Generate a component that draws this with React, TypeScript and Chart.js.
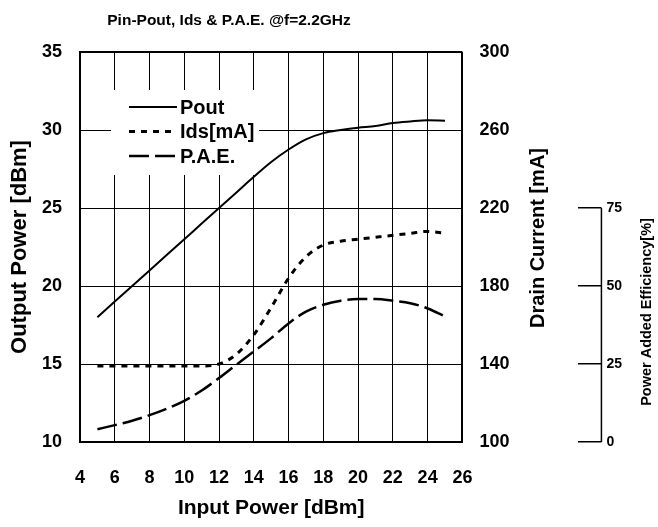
import React, { useEffect, useRef } from "react";
import { Chart, registerables } from "chart.js";

Chart.register(...registerables);

const chartTitle = "Pin-Pout, Ids & P.A.E. @f=2.2GHz";
const xTitle = "Input Power [dBm]";
const yTitle = "Output Power [dBm]";
const y1Title = "Drain Current [mA]";
const y2Title = "Power Added Efficiency[%]";

const inputPower = [5, 6, 7, 8, 9, 10, 11, 12, 13, 14, 15, 16, 17, 18, 19, 20, 21, 22, 23, 24, 25];
const pout = [18.0, 19.0, 20.0, 21.0, 22.0, 23.0, 24.0, 25.0, 26.0, 27.0, 27.95, 28.75, 29.4, 29.8, 30.0, 30.15, 30.25, 30.45, 30.55, 30.62, 30.6];
const ids = [139, 139, 139, 139, 139, 139, 139, 140, 145, 155, 169, 184, 195, 201, 203, 204, 205, 206, 207, 208, 207];
const pae = [4.1, 5.4, 6.8, 8.6, 10.7, 13.2, 16.5, 20.5, 24.8, 29.0, 33.3, 38.0, 41.8, 44.0, 45.3, 45.8, 45.8, 45.3, 44.5, 42.8, 40.3];

const paeTicks = [0, 25, 50, 75];

const FONT = "'Liberation Sans', Arial, Helvetica, sans-serif";

const titlePlugin = {
  id: "customTitle",
  afterDraw(chart: any) {
    const { ctx, chartArea } = chart;
    ctx.save();
    ctx.fillStyle = "#000";
    ctx.font = `bold 15.5px ${FONT}`;
    ctx.textAlign = "center";
    ctx.textBaseline = "alphabetic";
    ctx.fillText(chartTitle, chartArea.left + 149, 25);
    ctx.restore();
  },
};

const legendPlugin = {
  id: "insideLegend",
  beforeDatasetsDraw(chart: any) {
    const { ctx, chartArea } = chart;
    const { left, top } = chartArea;
    ctx.save();
    ctx.fillStyle = "#fff";
    ctx.fillRect(left + 31, top + 38, 148, 85);
    chart.data.datasets.forEach((ds: any, i: number) => {
      const y = top + 55 + i * 24.5;
      ctx.beginPath();
      ctx.setLineDash(ds.borderDash || []);
      ctx.lineWidth = ds.borderWidth;
      ctx.strokeStyle = "#000";
      ctx.moveTo(left + 49, y);
      ctx.lineTo(left + 97, y);
      ctx.stroke();
      ctx.setLineDash([]);
      ctx.fillStyle = "#000";
      ctx.font = `bold 20px ${FONT}`;
      ctx.textAlign = "left";
      ctx.textBaseline = "middle";
      ctx.fillText(ds.label, left + 100, y + 1);
    });
    ctx.restore();
  },
};

const rightAxesPlugin = {
  id: "rightAxes",
  afterDraw(chart: any) {
    const { ctx, chartArea, scales } = chart;
    const y1 = scales.y1;
    const y2 = scales.y2;
    ctx.save();
    ctx.fillStyle = "#000";
    // Drain current title (reads bottom-to-top)
    ctx.save();
    ctx.translate(y1.right - 40, (chartArea.top + chartArea.bottom) / 2 - 9);
    ctx.rotate(-Math.PI / 2);
    ctx.font = `bold 20px ${FONT}`;
    ctx.textAlign = "center";
    ctx.textBaseline = "middle";
    ctx.fillText(y1Title, 0, 0);
    ctx.restore();
    // PAE axis line
    const yTop = y2.getPixelForValue(paeTicks[paeTicks.length - 1]);
    const yBot = y2.getPixelForValue(paeTicks[0]);
    const lx = y2.left + 23;
    ctx.beginPath();
    ctx.strokeStyle = "#000";
    ctx.lineWidth = 1.5;
    ctx.moveTo(lx, yTop);
    ctx.lineTo(lx, yBot);
    ctx.stroke();
    // PAE title
    ctx.save();
    ctx.translate(y2.right - 7, (yTop + yBot) / 2 - 13);
    ctx.rotate(-Math.PI / 2);
    ctx.font = `bold 14.5px ${FONT}`;
    ctx.textAlign = "center";
    ctx.textBaseline = "middle";
    ctx.fillText(y2Title, 0, 0);
    ctx.restore();
    ctx.restore();
  },
};

export default function App() {
  const ref = useRef<HTMLCanvasElement>(null);
  useEffect(() => {
    const tickFont = { family: FONT, size: 18, weight: "bold" as const };
    const chart = new Chart(ref.current!, {
      type: "line",
      data: {
        datasets: [
          {
            label: "Pout",
            data: inputPower.map((x, i) => ({ x, y: pout[i] })),
            yAxisID: "y",
            borderColor: "#000",
            borderWidth: 2,
            borderDash: [],
            pointRadius: 0,
            cubicInterpolationMode: "monotone",
          },
          {
            label: "Ids[mA]",
            data: inputPower.map((x, i) => ({ x, y: ids[i] })),
            yAxisID: "y1",
            borderColor: "#000",
            borderWidth: 3,
            borderDash: [6, 6],
            pointRadius: 0,
            cubicInterpolationMode: "monotone",
          },
          {
            label: "P.A.E.",
            data: inputPower.map((x, i) => ({ x, y: pae[i] })),
            yAxisID: "y2",
            borderColor: "#000",
            borderWidth: 2.5,
            borderDash: [20, 6],
            pointRadius: 0,
            cubicInterpolationMode: "monotone",
          },
        ],
      },
      options: {
        animation: false,
        responsive: false,
        layout: { padding: { top: 52, left: 4, right: 4, bottom: 3 } },
        plugins: {
          legend: { display: false },
          title: { display: false },
          tooltip: { enabled: false },
        },
        scales: {
          x: {
            type: "linear",
            min: 4,
            max: 26,
            ticks: { stepSize: 2, font: tickFont, color: "#000", padding: 25 },
            grid: {
              color: "#000",
              lineWidth: (c: any) => (c.tick && (c.tick.value === 4 || c.tick.value === 26) ? 2 : 1),
              drawTicks: false,
            },
            border: { color: "#000", width: 2 },
            title: {
              display: true,
              text: xTitle,
              color: "#000",
              font: { family: FONT, size: 21, weight: "bold" },
              padding: { top: 7.2, bottom: 3 },
            },
            afterFit: (s: any) => {
              s.height -= 25;
            },
          },
          y: {
            position: "left",
            min: 10,
            max: 35,
            ticks: { stepSize: 5, font: tickFont, color: "#000", padding: 18 },
            grid: {
              color: "#000",
              lineWidth: (c: any) => (c.tick && (c.tick.value === 10 || c.tick.value === 35) ? 2 : 1),
              drawTicks: false,
            },
            border: { color: "#000", width: 2 },
            title: {
              display: true,
              text: yTitle,
              color: "#000",
              font: { family: FONT, size: 22, weight: "bold" },
              padding: { top: 3, bottom: 8.6 },
            },
            afterFit: (s: any) => {
              s.width -= 18;
            },
          },
          y1: {
            position: "right",
            weight: 1,
            min: 100,
            max: 300,
            ticks: { stepSize: 40, font: tickFont, color: "#000", padding: 17 },
            grid: { display: false, drawOnChartArea: false, drawTicks: false },
            border: { display: false },
            afterFit: (s: any) => {
              s.width += 52;
            },
          },
          y2: {
            position: "right",
            weight: 2,
            min: 0,
            max: 125,
            afterBuildTicks: (s: any) => {
              s.ticks = paeTicks.map((v) => ({ value: v }));
            },
            ticks: { font: { family: FONT, size: 14, weight: "bold" }, color: "#000", padding: 5, autoSkip: false },
            grid: { drawOnChartArea: false, drawTicks: true, tickLength: 23, color: "#000", lineWidth: 1.5 },
            border: { display: false },
            afterFit: (s: any) => {
              s.width += 27;
            },
          },
        },
      } as any,
      plugins: [titlePlugin, legendPlugin, rightAxesPlugin],
    });
    return () => chart.destroy();
  }, []);
  return (
    <div style={{ position: "fixed", left: 0, top: 0, width: 658, height: 527, background: "#fff" }}>
      <canvas ref={ref} width={658} height={527} style={{ width: 658, height: 527, display: "block" }} />
    </div>
  );
}
